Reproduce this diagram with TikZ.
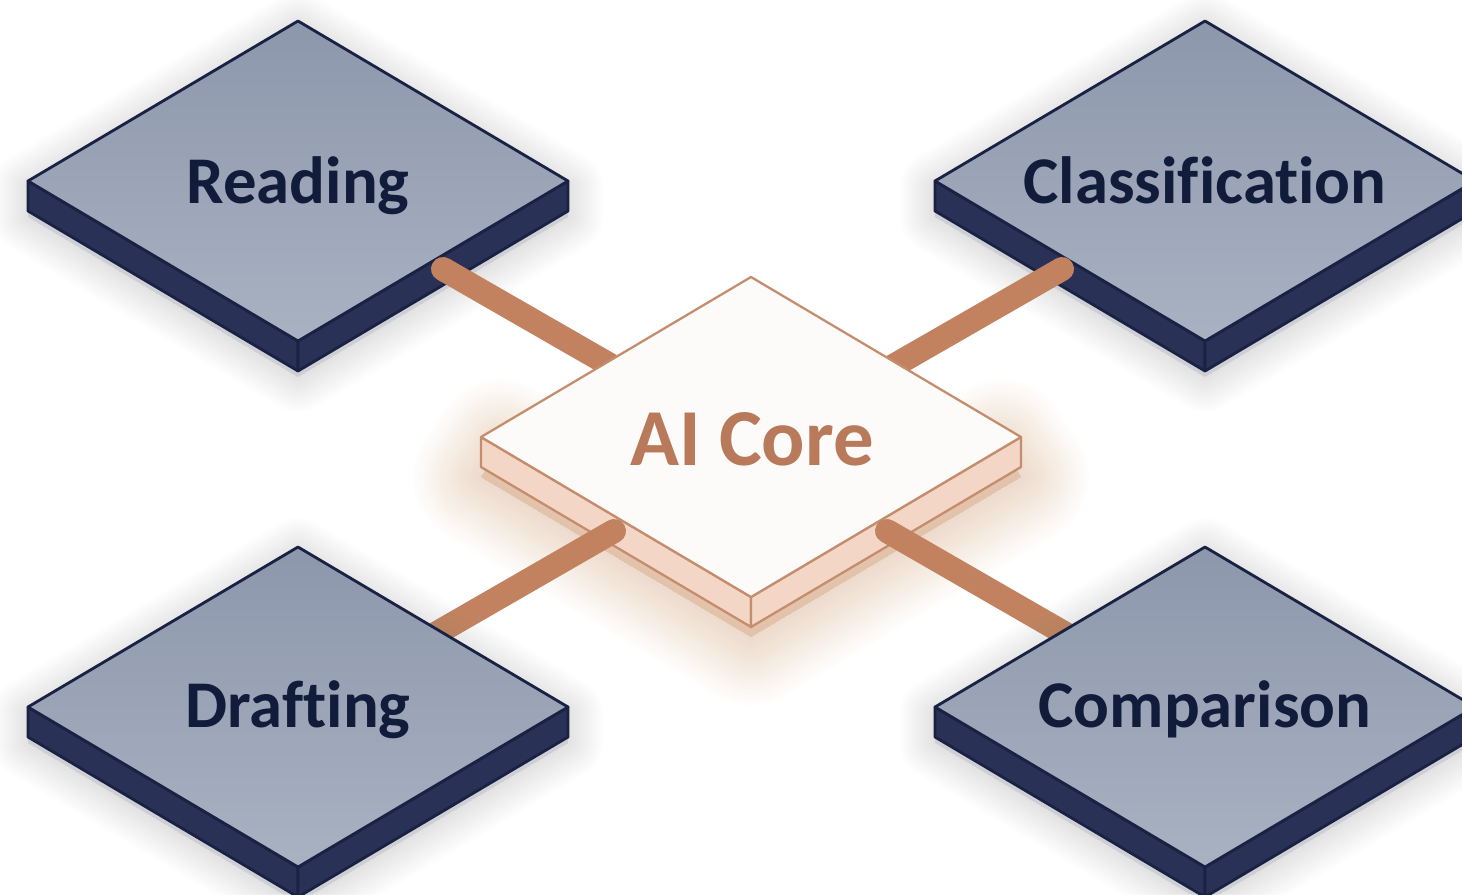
\documentclass[tikz,border=0pt]{standalone}
\usepackage{fontspec}
\setmainfont{Carlito}[Ligatures=NoCommon]
\definecolor{edgenavy}{HTML}{1A2244}
\definecolor{slabnavy}{HTML}{2A3156}
\definecolor{facetop}{HTML}{8D97AC}
\definecolor{facebot}{HTML}{A9B2C2}
\definecolor{txtnavy}{HTML}{111B3A}
\definecolor{copper}{HTML}{C3825F}
\definecolor{coreline}{HTML}{C48D6D}
\definecolor{coreslab}{HTML}{F3D6C5}
\definecolor{coretxt}{HTML}{B87A5A}
\definecolor{coretop}{HTML}{FDFBFA}
\definecolor{coreglow}{HTML}{E39A72}
\definecolor{shadowgray}{HTML}{7E838F}
\newcommand\isoblock[4]{%
  \path[#4] ({#1-270},{#2}) -- ({#1},{#2+160}) -- ({#1},{#2+190}) -- ({#1-270},{#2+30}) -- cycle;
  \path[#4] ({#1},{#2+160}) -- ({#1+270},{#2}) -- ({#1+270},{#2+30}) -- ({#1},{#2+190}) -- cycle;
  \path[#3] ({#1},{#2-160}) -- ({#1+270},{#2}) -- ({#1},{#2+160}) -- ({#1-270},{#2}) -- cycle;
}
% cx cy color yshift per-layer-opacity steps step-width(cm)
\newcommand\isoshadow[7]{%
  \foreach \i in {1,...,#6}{
    \pgfmathsetlengthmacro\lw{\i*#7 cm}
    \path[draw=#3,fill=#3,line width=\lw,line join=round,draw opacity=#5,fill opacity=#5]
      ({#1},{#2-160+#4}) -- ({#1+270},{#2+#4}) -- ({#1+270},{#2+30+#4}) -- ({#1},{#2+190+#4})
      -- ({#1-270},{#2+30+#4}) -- ({#1-270},{#2+#4}) -- cycle;
  }
}
% glow from the slab (lower part) only
\newcommand\isoglow[7]{%
  \foreach \i in {1,...,#6}{
    \pgfmathsetlengthmacro\lw{\i*#7 cm}
    \path[draw=#3,fill=#3,line width=\lw,line join=round,draw opacity=#5,fill opacity=#5]
      ({#1-250},{#2+#4}) -- ({#1},{#2+140+#4}) -- ({#1+250},{#2+#4}) -- ({#1+270},{#2+30+#4})
      -- ({#1},{#2+190+#4}) -- ({#1-270},{#2+30+#4}) -- cycle;
  }
}
\begin{document}
\begin{tikzpicture}[x=0.02cm,y=-0.02cm,
  navyface/.style={top color=facetop,bottom color=facebot,draw=edgenavy,line width=1.6pt,line join=round},
  navyside/.style={fill=slabnavy,draw=edgenavy,line width=1.6pt,line join=round},
  coreface/.style={fill=coretop,draw=coreline,line width=1.3pt,line join=round},
  coreside/.style={fill=coreslab,draw=coreline,line width=1.3pt,line join=round},
  lbl/.style={anchor=base,text=txtnavy,font=\bfseries\fontsize{38}{42}\selectfont,inner sep=0pt},
  corelbl/.style={anchor=base,text=coretxt,font=\bfseries\fontsize{46}{50}\selectfont,inner sep=0pt},
  conn/.style={draw=copper,line width=0.48cm,line cap=round}]
\useasboundingbox (0,0) rectangle (1462,894);
\fill[white] (0,0) rectangle (1462,894);

% upper blocks
\isoshadow{298}{181}{shadowgray}{6}{0.013}{14}{0.1}
\isoshadow{1205}{181}{shadowgray}{6}{0.013}{14}{0.1}
\isoblock{298}{181}{navyface}{navyside}
\isoblock{1205}{181}{navyface}{navyside}
\node[lbl] (read) at (298,203) {Reading};
\node[lbl] (class) at (1205,203) {Classification};

% core glow
\isoglow{751}{437}{coreglow}{10}{0.02}{18}{0.15}

% upper connectors
\coordinate (readC) at (443,269);
\coordinate (coreUL) at (650,388);
\coordinate (classC) at (1062,269);
\coordinate (coreUR) at (855,388);
\draw[conn] (readC) -- (coreUL);
\draw[conn] (classC) -- (coreUR);

% core
\isoblock{751}{437}{coreface}{coreside}
\node[corelbl] (core) at (752,465) {AI Core};

% lower connectors
\coordinate (coreLL) at (614,531);
\coordinate (draftC) at (385,663);
\coordinate (coreLR) at (887,531);
\coordinate (compC) at (1116,663);
\draw[conn] (coreLL) -- (draftC);
\draw[conn] (coreLR) -- (compC);

% lower blocks
\isoshadow{298}{707}{shadowgray}{6}{0.013}{14}{0.1}
\isoshadow{1205}{707}{shadowgray}{6}{0.013}{14}{0.1}
\isoblock{298}{707}{navyface}{navyside}
\isoblock{1205}{707}{navyface}{navyside}
\node[lbl] (draft) at (298,727) {Drafting};
\node[lbl] (comp) at (1205,727) {Comparison};
\end{tikzpicture}
\end{document}
